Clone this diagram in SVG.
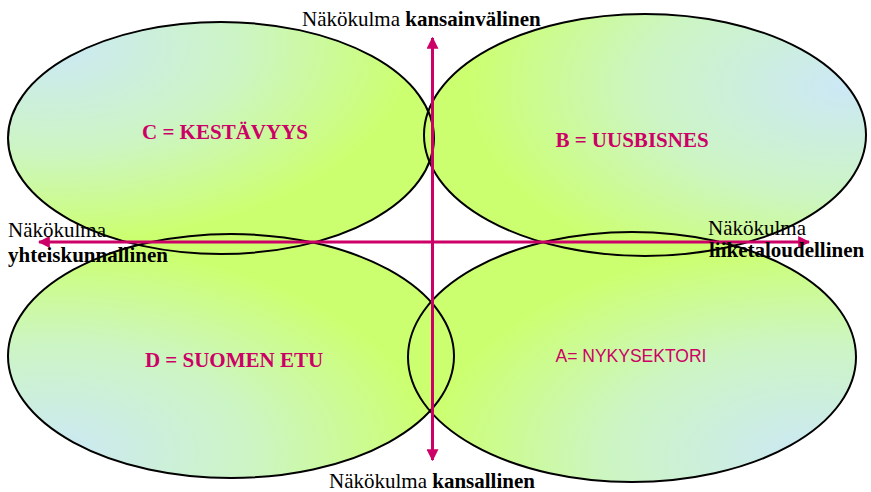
<svg xmlns="http://www.w3.org/2000/svg" width="871" height="492" viewBox="0 0 871 492">
<style>
.sh{stroke:none}
.ol{fill:none;stroke:#000;stroke-width:2}
.lab{font-family:"Liberation Serif","Times New Roman",serif;font-size:21px;fill:#000}
.b{font-weight:bold}
.nl{font-family:"Liberation Serif","Times New Roman",serif;font-size:21px;font-weight:bold;fill:#cc0066;text-anchor:middle}
.ax{stroke:#cc0066;stroke-width:3;fill:none}
</style>
<defs>
<radialGradient id="gC" cx="0.1" cy="0.1" r="1" gradientUnits="objectBoundingBox"><stop offset="0" stop-color="#cce8f6"/><stop offset="0.45" stop-color="#ccf5c4"/><stop offset="0.85" stop-color="#ccff70"/></radialGradient>
<radialGradient id="gB" cx="0.95" cy="0.3" r="1" gradientUnits="objectBoundingBox"><stop offset="0" stop-color="#cce8f6"/><stop offset="0.45" stop-color="#ccf5c4"/><stop offset="0.85" stop-color="#ccff70"/></radialGradient>
<radialGradient id="gD" cx="0.1" cy="0.9" r="1" gradientUnits="objectBoundingBox"><stop offset="0" stop-color="#cce8f6"/><stop offset="0.45" stop-color="#ccf5c4"/><stop offset="0.85" stop-color="#ccff70"/></radialGradient>
<radialGradient id="gA" cx="0.9" cy="0.9" r="1" gradientUnits="objectBoundingBox"><stop offset="0" stop-color="#cce8f6"/><stop offset="0.45" stop-color="#ccf5c4"/><stop offset="0.85" stop-color="#ccff70"/></radialGradient>
<marker id="ah" viewBox="0 0 10 10" refX="9" refY="5" markerWidth="4" markerHeight="4" orient="auto-start-reverse" markerUnits="strokeWidth"><path d="M0,0 L10,5 L0,10 Z" fill="#cc0066"/></marker>
</defs>
<rect width="871" height="492" fill="#fff"/>
<g id="fills">
<ellipse class="sh" cx="221" cy="138" rx="213" ry="116" fill="url(#gC)"/>
<ellipse class="sh" cx="645" cy="135" rx="221" ry="121" fill="url(#gB)"/>
<ellipse class="sh" cx="231" cy="356" rx="223" ry="122" fill="url(#gD)"/>
<ellipse class="sh" cx="632" cy="357" rx="224" ry="125" fill="url(#gA)"/>
</g>
<g id="nodeC"><ellipse class="ol" cx="221" cy="138" rx="213" ry="116"/><text class="nl" x="225" y="139">C = KESTÄVYYS</text></g>
<g id="nodeB"><ellipse class="ol" cx="645" cy="135" rx="221" ry="121"/><text class="nl" x="632" y="147">B = UUSBISNES</text></g>
<g id="nodeD"><ellipse class="ol" cx="231" cy="356" rx="223" ry="122"/><text class="nl" x="234" y="367">D = SUOMEN ETU</text></g>
<g id="nodeA"><ellipse class="ol" cx="632" cy="357" rx="224" ry="125"/><text x="631" y="362" text-anchor="middle" font-family="'Liberation Sans',Arial,sans-serif" font-size="17.5" fill="#cc0066">A= NYKYSEKTORI</text></g>
<g id="connectors">
<line class="ax" x1="432.5" y1="460" x2="432.5" y2="38" marker-end="url(#ah)" marker-start="url(#ah)"/>
<line class="ax" x1="39" y1="242" x2="809" y2="242" marker-end="url(#ah)" marker-start="url(#ah)"/>
</g>
<g id="labels">
<text class="lab" x="302" y="26">Näkökulma <tspan class="b">kansainvälinen</tspan></text>
<text class="lab" x="8" y="237">Näkökulma</text>
<text class="lab b" x="8" y="262">yhteiskunnallinen</text>
<text class="lab" x="708" y="235">Näkökulma</text>
<text class="lab b" x="709" y="257">liiketaloudellinen</text>
<text class="lab" x="329" y="488">Näkökulma <tspan class="b">kansallinen</tspan></text>
</g>
</svg>
